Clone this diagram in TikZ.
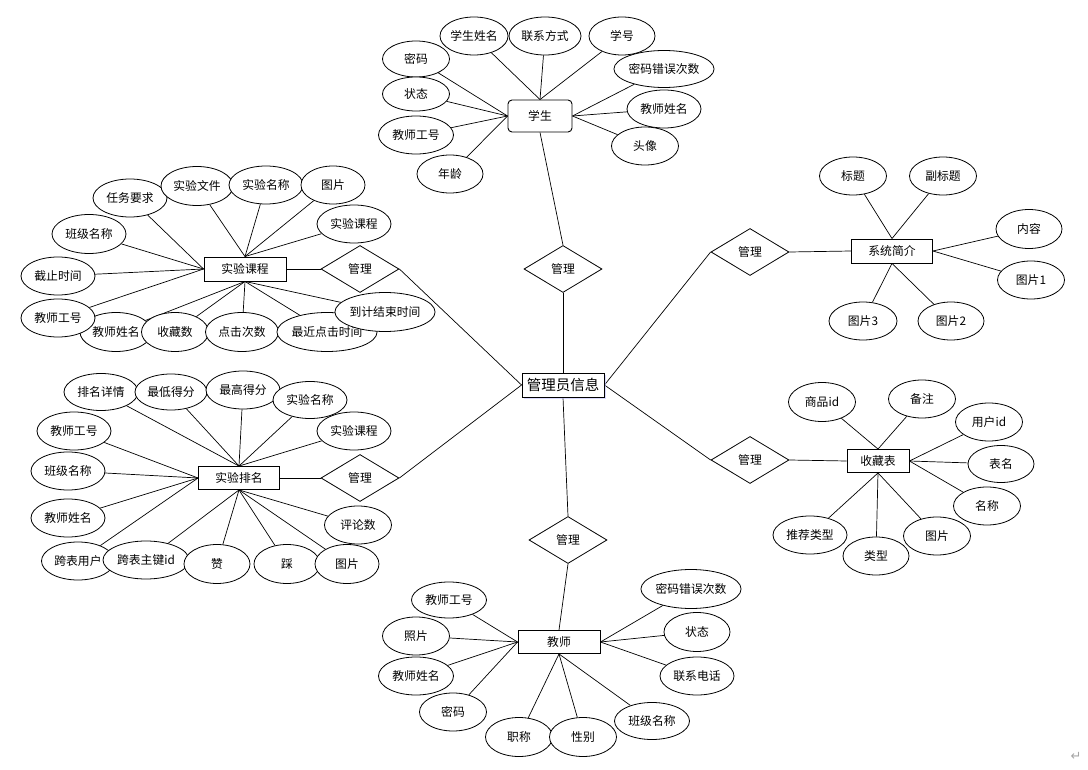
\documentclass[tikz,border=0pt]{standalone}
\usepackage{fontspec}
\setmainfont{Noto Sans CJK SC}
\newfontfamily\symfont{DejaVu Sans}
\usetikzlibrary{shapes.geometric,shadows}
\pgfdeclarelayer{bg}
\pgfsetlayers{bg,main}
\tikzset{
  attr/.style={ellipse, draw, fill=white, line width=0.8pt, inner sep=0pt,
    minimum width=67pt, minimum height=38pt, font=\fontsize{11.8}{12}\selectfont},
  ent/.style={rectangle, draw, fill=white, line width=0.9pt, inner sep=0pt,
    minimum width=82pt, minimum height=24pt, font=\fontsize{11.8}{12}\selectfont},
  rel/.style={diamond, draw, fill=white, line width=0.8pt, inner sep=0pt, aspect=1.66,
    minimum width=78pt, minimum height=47pt, font=\fontsize{11.8}{12}\selectfont},
  link/.style={line width=0.7pt},
}
\begin{document}
\begin{tikzpicture}[x=1pt,y=-1pt]
\useasboundingbox (0,0) rectangle (1088,770);

% central
\node[ent, minimum width=82pt, minimum height=24pt, font=\fontsize{14.5}{15}\selectfont,
  drop shadow={shadow xshift=1.5pt, shadow yshift=-1.5pt, fill=blue!25, opacity=0.6}] (c) at (563,385) {管理员信息};

% relationships
\node[rel] (dt) at (563,269) {管理};
\node[rel] (db) at (568,540) {管理};
\node[rel] (dl1) at (360,269) {管理};
\node[rel] (dl2) at (360,478) {管理};
\node[rel] (dr1) at (750,252) {管理};
\node[rel] (dr2) at (750,460) {管理};

% entities
\node[ent, rounded corners=4pt, minimum width=64pt, minimum height=32pt] (xs) at (540,116) {学生};
\node[ent] (kc) at (245,269) {实验课程};
\node[ent, minimum width=81pt, minimum height=23pt] (pm) at (239,478) {实验排名};
\node[ent, minimum height=23pt] (js) at (559,642) {教师};
\node[ent, minimum width=81pt] (xt) at (892,251) {系统简介};
\node[ent, minimum width=62pt, minimum height=23pt] (sc) at (878,461) {收藏表};

% 学生 attributes
\node[attr, minimum width=68pt] (xs1) at (474,36) {学生姓名};
\node[attr, minimum width=72pt] (xs2) at (545,36) {联系方式};
\node[attr, minimum width=66pt] (xs3) at (622,36) {学号};
\node[attr, minimum height=36pt] (xs4) at (416,59) {密码};
\node[attr, minimum height=34pt] (xs5) at (416,94) {状态};
\node[attr, minimum width=75pt] (xs6) at (416,135) {教师工号};
\node[attr, minimum width=66pt] (xs7) at (450,174) {年龄};
\node[attr, minimum width=99pt, minimum height=37pt] (xs8) at (664,69) {密码错误次数};
\node[attr, minimum width=74pt] (xs9) at (664,109) {教师姓名};
\node[attr] (xs10) at (645,146) {头像};

% 实验课程 attributes
\node[attr, minimum width=74pt] (kc1) at (130,198) {任务要求};
\node[attr, minimum width=72pt, minimum height=39pt] (kc2) at (197,186) {实验文件};
\node[attr, minimum width=74pt] (kc3) at (266,185) {实验名称};
\node[attr, minimum width=64pt] (kc4) at (333,185) {图片};
\node[attr, minimum width=74pt] (kc5) at (354,224) {实验课程};
\node[attr, minimum width=74pt, minimum height=39pt] (kc6) at (89,234) {班级名称};
\node[attr, minimum width=74pt] (kc7) at (58,276) {截止时间};
\node[attr, minimum width=72pt, minimum height=39pt] (kc9) at (116,332) {教师姓名};
\node[attr, minimum width=74pt] (kc8) at (58,318) {教师工号};
\node[attr, minimum height=39pt] (kc10) at (175,332) {收藏数};
\node[attr, minimum width=73pt, minimum height=39pt] (kc11) at (242,332) {点击次数};
\node[attr, minimum width=99pt, minimum height=39pt] (kc12) at (327,332) {最近点击时间};
\node[attr, minimum width=99pt, minimum height=39pt] (kc13) at (385,312) {到计结束时间};

% 实验排名 attributes
\node[attr, minimum width=74pt, minimum height=37pt] (pm1) at (101,392) {排名详情};
\node[attr, minimum width=72pt, minimum height=36pt] (pm2) at (171,392) {最低得分};
\node[attr, minimum width=74pt] (pm3) at (243,390) {最高得分};
\node[attr, minimum width=74pt, minimum height=37pt] (pm4) at (310,400) {实验名称};
\node[attr, minimum width=74pt] (pm5) at (354,431) {实验课程};
\node[attr, minimum width=74pt] (pm6) at (74,431) {教师工号};
\node[attr, minimum width=74pt] (pm7) at (68,471) {班级名称};
\node[attr, minimum width=74pt] (pm8) at (68,518) {教师姓名};
\node[attr, minimum width=73pt] (pm9) at (78,561) {跨表用户};
\node[attr, minimum width=86pt] (pm10) at (146,560) {跨表主键id};
\node[attr, minimum width=66pt, minimum height=39pt] (pm11) at (217,564) {赞};
\node[attr, minimum width=66pt, minimum height=39pt] (pm12) at (287,564) {踩};
\node[attr, minimum width=64pt, minimum height=39pt] (pm13) at (347,564) {图片};
\node[attr] (pm14) at (358,525) {评论数};

% 教师 attributes
\node[attr, minimum width=75pt, minimum height=36pt] (js1) at (449,600) {教师工号};
\node[attr] (js2) at (416,636) {照片};
\node[attr, minimum width=75pt] (js3) at (416,676) {教师姓名};
\node[attr] (js4) at (453,712) {密码};
\node[attr, minimum height=39pt] (js5) at (519,737) {职称};
\node[attr, minimum height=39pt] (js6) at (583,737) {性别};
\node[attr, minimum width=75pt, minimum height=37pt] (js7) at (652,721) {班级名称};
\node[attr, minimum width=74pt] (js8) at (697,676) {联系电话};
\node[attr, minimum width=66pt, minimum height=39pt] (js9) at (697,632) {状态};
\node[attr, minimum width=99pt, minimum height=39pt] (js10) at (691,589) {密码错误次数};

% 系统简介 attributes
\node[attr] (xt1) at (853,176) {标题};
\node[attr] (xt2) at (943,176) {副标题};
\node[attr, minimum width=66pt, minimum height=39pt] (xt3) at (1029,229) {内容};
\node[attr] (xt4) at (1031,280) {图片1};
\node[attr, minimum width=66pt] (xt5) at (951,321) {图片2};
\node[attr, minimum width=68pt] (xt6) at (863,321) {图片3};

% 收藏表 attributes
\node[attr, minimum height=39pt] (sc1) at (822,402) {商品id};
\node[attr] (sc2) at (922,399) {备注};
\node[attr] (sc3) at (989,422) {用户id};
\node[attr, minimum width=66pt, minimum height=37pt] (sc4) at (1001,464) {表名};
\node[attr] (sc5) at (987,506) {名称};
\node[attr] (sc6) at (937,536) {图片};
\node[attr, minimum width=66pt] (sc7) at (876,556) {类型};
\node[attr, minimum width=74pt] (sc8) at (810,535) {推荐类型};

% paragraph mark
\node[text=gray!70, font=\symfont\fontsize{13}{13}\selectfont, inner sep=0pt] (pmark) at (1076,756) {↵};

\begin{pgfonlayer}{bg}
% central links
\draw[link] (c.north) -- (dt.south);
\draw[link] (c.south) -- (db.north);
\draw[link] (c.west) -- (dl1.east);
\draw[link] (c.west) -- (dl2.east);
\draw[link] (c.east) -- (dr1.west);
\draw[link] (c.east) -- (dr2.west);
% entity to relationship
\draw[link] (xs.south) -- (dt.north);
\draw[link] (js.north) -- (db.south);
\draw[link] (kc.east) -- (dl1.west);
\draw[link] (pm.east) -- (dl2.west);
\draw[link] (xt.west) -- (dr1.east);
\draw[link] (sc.west) -- (dr2.east);
% 学生
\foreach \a in {xs1,xs2,xs3} \draw[link] (\a) -- (xs.north);
\foreach \a in {xs4,xs5,xs6,xs7} \draw[link] (\a) -- (xs.west);
\foreach \a in {xs8,xs9,xs10} \draw[link] (\a) -- (xs.east);
% 实验课程
\foreach \a in {kc2,kc3,kc4,kc5} \draw[link] (\a) -- (kc.north);
\foreach \a in {kc1,kc6,kc7,kc8} \draw[link] (\a) -- (kc.west);
\foreach \a in {kc9,kc10,kc11,kc12,kc13} \draw[link] (\a) -- (kc.south);
% 实验排名
\foreach \a in {pm1,pm2,pm3,pm4,pm5} \draw[link] (\a) -- (pm.north);
\foreach \a in {pm6,pm7,pm8,pm9} \draw[link] (\a) -- (pm.west);
\foreach \a in {pm10,pm11,pm12,pm13,pm14} \draw[link] (\a) -- (pm.south);
% 教师
\foreach \a in {js1,js2,js3,js4} \draw[link] (\a) -- (js.west);
\foreach \a in {js5,js6,js7} \draw[link] (\a) -- (js.south);
\foreach \a in {js8,js9,js10} \draw[link] (\a) -- (js.east);
% 系统简介
\foreach \a in {xt1,xt2} \draw[link] (\a) -- (xt.north);
\foreach \a in {xt3,xt4} \draw[link] (\a) -- (xt.east);
\foreach \a in {xt5,xt6} \draw[link] (\a) -- (xt.south);
% 收藏表
\foreach \a in {sc1,sc2} \draw[link] (\a) -- (sc.north);
\foreach \a in {sc3,sc4,sc5} \draw[link] (\a) -- (sc.east);
\foreach \a in {sc6,sc7,sc8} \draw[link] (\a) -- (sc.south);
\end{pgfonlayer}
\end{tikzpicture}
\end{document}
